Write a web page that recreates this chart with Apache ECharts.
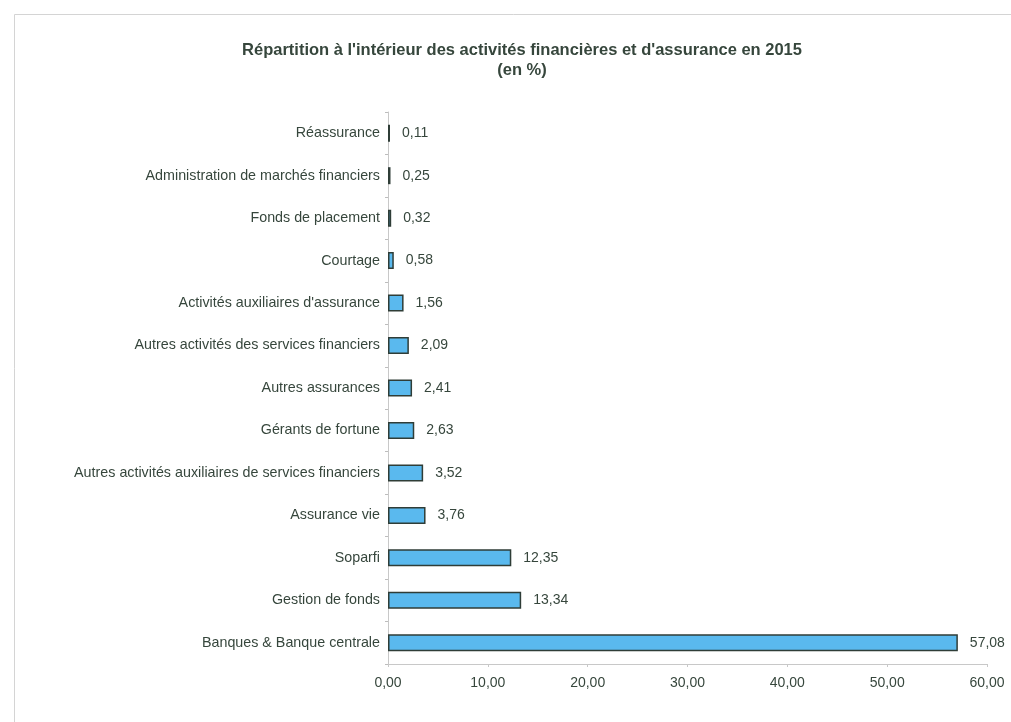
<!DOCTYPE html>
<html>
<head>
<meta charset="utf-8">
<script src="https://cdn.jsdelivr.net/npm/echarts@6/dist/echarts.min.js"></script>
<style>
  html, body { margin: 0; padding: 0; background: #ffffff; }
  #chart { width: 1011px; height: 722px; }
</style>
</head>
<body>
<div id="chart"></div>
<script>
// Secteurs, du bas vers le haut de l'axe
const categories = [
  'Banques & Banque centrale',
  'Gestion de fonds',
  'Soparfi',
  'Assurance vie',
  'Autres activités auxiliaires de services financiers',
  'Gérants de fortune',
  'Autres assurances',
  'Autres activités des services financiers',
  'Activités auxiliaires d\'assurance',
  'Courtage',
  'Fonds de placement',
  'Administration de marchés financiers',
  'Réassurance'
];

// Part de chaque secteur (en %)
const values = [57.08, 13.34, 12.35, 3.76, 3.52, 2.63, 2.41, 2.09, 1.56, 0.58, 0.32, 0.25, 0.11];

const xTicks = { min: 0, max: 60, interval: 10 };

const fr = v => v.toFixed(2).replace('.', ',');

const textColor = '#36463c';
const font = '"Liberation Sans", Arial, sans-serif';

const chart = echarts.init(document.getElementById('chart'), null, { renderer: 'canvas' });
chart.setOption({
  backgroundColor: '#ffffff',
  animation: false,
  textStyle: { fontFamily: font },
  graphic: [{
    type: 'rect',
    shape: { x: 14.5, y: 14.5, width: 1010, height: 720 },
    style: { fill: 'none', stroke: '#d4d4d4', lineWidth: 1 },
    silent: true
  }],
  title: {
    text: 'Répartition à l\'intérieur des activités financières et d\'assurance en 2015\n(en %)',
    left: 517,
    textAlign: 'center',
    top: 35,
    textStyle: {
      color: textColor,
      fontFamily: font,
      fontSize: 16.5,
      fontWeight: 'bold',
      lineHeight: 20
    }
  },
  grid: { left: 388, right: 24, top: 112, bottom: 58, containLabel: false },
  xAxis: {
    type: 'value',
    min: xTicks.min,
    max: xTicks.max,
    interval: xTicks.interval,
    axisLine: { show: true, lineStyle: { color: '#c8c8c8', width: 1 } },
    axisTick: { show: true, length: 3, lineStyle: { color: '#c8c8c8' } },
    splitLine: { show: false },
    axisLabel: {
      color: textColor,
      fontSize: 14,
      fontFamily: font,
      margin: 12,
      formatter: v => fr(v)
    }
  },
  yAxis: {
    type: 'category',
    data: categories,
    axisLine: { show: true, lineStyle: { color: '#c8c8c8', width: 1 } },
    axisTick: { show: true, length: 3, lineStyle: { color: '#bdbdbd' } },
    axisLabel: {
      color: textColor,
      fontSize: 14.3,
      fontFamily: font,
      margin: 8
    }
  },
  series: [{
    type: 'bar',
    data: values,
    barWidth: 17,
    barMinHeight: 2,
    itemStyle: {
      color: '#5ab9ee',
      borderColor: '#2f3d37',
      borderWidth: 1.5
    },
    label: {
      show: true,
      position: 'right',
      distance: 12,
      color: textColor,
      fontSize: 14,
      fontFamily: font,
      formatter: p => fr(p.value)
    }
  }]
});
</script>
</body>
</html>
